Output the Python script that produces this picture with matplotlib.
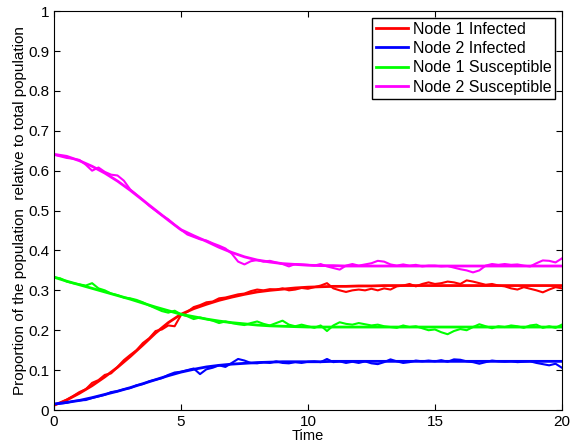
import matplotlib
matplotlib.use("Agg")
import matplotlib.pyplot as plt
import numpy as np

plt.rcParams['font.family'] = ['Liberation Sans', 'DejaVu Sans']

# smooth (mean-field) curves, sampled every 0.5 time units
t_smooth = np.arange(0, 20.01, 0.5)
inf1_smooth = [0.012, 0.025, 0.042, 0.061, 0.083, 0.107, 0.134, 0.163, 0.193, 0.219,
               0.240, 0.254, 0.265, 0.275, 0.283, 0.290, 0.296, 0.300, 0.303, 0.306,
               0.308, 0.309, 0.310, 0.310, 0.311, 0.311, 0.312, 0.312, 0.312, 0.312,
               0.312, 0.312, 0.312, 0.312, 0.312, 0.312, 0.312, 0.312, 0.312, 0.312, 0.312]
inf2_smooth = [0.015, 0.019, 0.024, 0.031, 0.039, 0.047, 0.056, 0.066, 0.076, 0.086,
               0.095, 0.102, 0.108, 0.112, 0.115, 0.117, 0.119, 0.120, 0.121, 0.121,
               0.121, 0.121, 0.122, 0.122, 0.122, 0.122, 0.122, 0.122, 0.122, 0.122,
               0.122, 0.122, 0.122, 0.122, 0.122, 0.122, 0.122, 0.122, 0.122, 0.122, 0.122]
sus1_smooth = [0.333, 0.323, 0.314, 0.305, 0.296, 0.287, 0.278, 0.268, 0.258, 0.249,
               0.240, 0.234, 0.228, 0.223, 0.219, 0.216, 0.213, 0.211, 0.210, 0.209,
               0.208, 0.208, 0.208, 0.208, 0.208, 0.208, 0.208, 0.208, 0.208, 0.208,
               0.208, 0.208, 0.208, 0.208, 0.208, 0.208, 0.208, 0.208, 0.208, 0.208, 0.208]
sus2_smooth = [0.641, 0.636, 0.625, 0.611, 0.594, 0.574, 0.551, 0.526, 0.501, 0.476,
               0.452, 0.437, 0.423, 0.408, 0.395, 0.384, 0.376, 0.371, 0.367, 0.365,
               0.363, 0.362, 0.362, 0.361, 0.361, 0.361, 0.361, 0.361, 0.361, 0.361,
               0.361, 0.361, 0.361, 0.361, 0.361, 0.361, 0.361, 0.361, 0.361, 0.361, 0.361]

# stochastic simulation, sampled every 0.25 time units
t_sim = np.arange(0, 20.001, 0.25)
inf1_sim = [0.012, 0.018, 0.026, 0.035, 0.045, 0.052, 0.068, 0.075, 0.088, 0.092,
            0.108, 0.125, 0.138, 0.150, 0.168, 0.180, 0.198, 0.202, 0.212, 0.210,
            0.238, 0.246, 0.258, 0.263, 0.270, 0.272, 0.280, 0.282, 0.286, 0.290,
            0.292, 0.298, 0.302, 0.300, 0.303, 0.302, 0.305, 0.300, 0.302, 0.306,
            0.304, 0.308, 0.312, 0.318, 0.305, 0.300, 0.296, 0.300, 0.302, 0.300,
            0.304, 0.300, 0.305, 0.302, 0.310, 0.312, 0.316, 0.310, 0.316, 0.320,
            0.316, 0.318, 0.322, 0.320, 0.316, 0.325, 0.322, 0.318, 0.314, 0.316,
            0.312, 0.310, 0.305, 0.302, 0.308, 0.304, 0.300, 0.295, 0.302, 0.308, 0.305]
inf2_sim = [0.015, 0.016, 0.018, 0.022, 0.024, 0.025, 0.030, 0.034, 0.038, 0.045,
            0.047, 0.052, 0.055, 0.062, 0.065, 0.072, 0.076, 0.080, 0.088, 0.094,
            0.096, 0.100, 0.104, 0.090, 0.102, 0.106, 0.112, 0.108, 0.118, 0.128,
            0.124, 0.118, 0.117, 0.120, 0.118, 0.122, 0.118, 0.117, 0.120, 0.118,
            0.121, 0.122, 0.120, 0.128, 0.120, 0.122, 0.118, 0.121, 0.118, 0.122,
            0.117, 0.115, 0.120, 0.127, 0.122, 0.118, 0.120, 0.124, 0.122, 0.124,
            0.122, 0.125, 0.121, 0.127, 0.126, 0.122, 0.120, 0.116, 0.120, 0.124,
            0.122, 0.121, 0.122, 0.120, 0.121, 0.122, 0.118, 0.115, 0.112, 0.116, 0.106]
sus1_sim = [0.333, 0.330, 0.322, 0.318, 0.315, 0.312, 0.318, 0.305, 0.300, 0.292,
            0.288, 0.282, 0.280, 0.276, 0.270, 0.262, 0.255, 0.248, 0.244, 0.249,
            0.240, 0.235, 0.228, 0.232, 0.228, 0.224, 0.218, 0.222, 0.218, 0.215,
            0.213, 0.218, 0.222, 0.216, 0.212, 0.218, 0.224, 0.214, 0.210, 0.214,
            0.210, 0.206, 0.212, 0.198, 0.212, 0.220, 0.216, 0.214, 0.218, 0.215,
            0.212, 0.214, 0.210, 0.208, 0.206, 0.212, 0.208, 0.210, 0.205, 0.200,
            0.202, 0.195, 0.190, 0.198, 0.203, 0.200, 0.208, 0.215, 0.210, 0.205,
            0.210, 0.208, 0.212, 0.210, 0.206, 0.212, 0.214, 0.206, 0.210, 0.206, 0.214]
sus2_sim = [0.640, 0.636, 0.632, 0.630, 0.627, 0.615, 0.600, 0.608, 0.597, 0.590,
            0.588, 0.575, 0.553, 0.540, 0.527, 0.512, 0.500, 0.488, 0.478, 0.464,
            0.452, 0.440, 0.434, 0.428, 0.425, 0.418, 0.412, 0.405, 0.392, 0.372,
            0.365, 0.373, 0.376, 0.372, 0.374, 0.370, 0.366, 0.360, 0.366, 0.365,
            0.364, 0.362, 0.366, 0.360, 0.356, 0.352, 0.362, 0.366, 0.362, 0.365,
            0.368, 0.374, 0.372, 0.365, 0.362, 0.365, 0.362, 0.364, 0.360, 0.362,
            0.362, 0.360, 0.361, 0.357, 0.353, 0.350, 0.345, 0.350, 0.362, 0.366,
            0.364, 0.366, 0.364, 0.365, 0.362, 0.360, 0.368, 0.375, 0.374, 0.370, 0.380]

labels = ["Node 1 Infected", "Node 2 Infected", "Node 1 Susceptible", "Node 2 Susceptible"]
colors = ["#ff0000", "#0000ff", "#00ff00", "#ff00ff"]

fig = plt.figure(figsize=(5.71, 4.46), dpi=100)
ax = fig.add_axes([0.0946, 0.0807, 0.8894, 0.8943])

for smooth, sim, c, lab in zip([inf1_smooth, inf2_smooth, sus1_smooth, sus2_smooth],
                               [inf1_sim, inf2_sim, sus1_sim, sus2_sim], colors, labels):
    ax.plot(t_smooth, smooth, color=c, lw=2, label=lab)
    ax.plot(t_sim, sim, color=c, lw=1.5)

ax.set_xlim(0, 20)
ax.set_ylim(0, 1)
ax.set_xticks([0, 5, 10, 15, 20])
ax.set_yticks(np.arange(0, 1.01, 0.1))
ax.set_yticklabels(["0", "0.1", "0.2", "0.3", "0.4", "0.5", "0.6", "0.7", "0.8", "0.9", "1"])
ax.tick_params(direction="in", top=True, right=True, labelsize=11, length=4)
ax.set_xlabel("Time", fontsize=10.5, labelpad=0)
ax.set_ylabel("Proportion of the population  relative to total population", fontsize=11, labelpad=1)

ax.legend(loc="upper right", fontsize=11.5, fancybox=False, edgecolor="black",
          framealpha=1, borderpad=0.25, handlelength=2.0, handletextpad=0.3,
          labelspacing=0.28, borderaxespad=0.4)

fig.savefig("out.png", dpi=100)
